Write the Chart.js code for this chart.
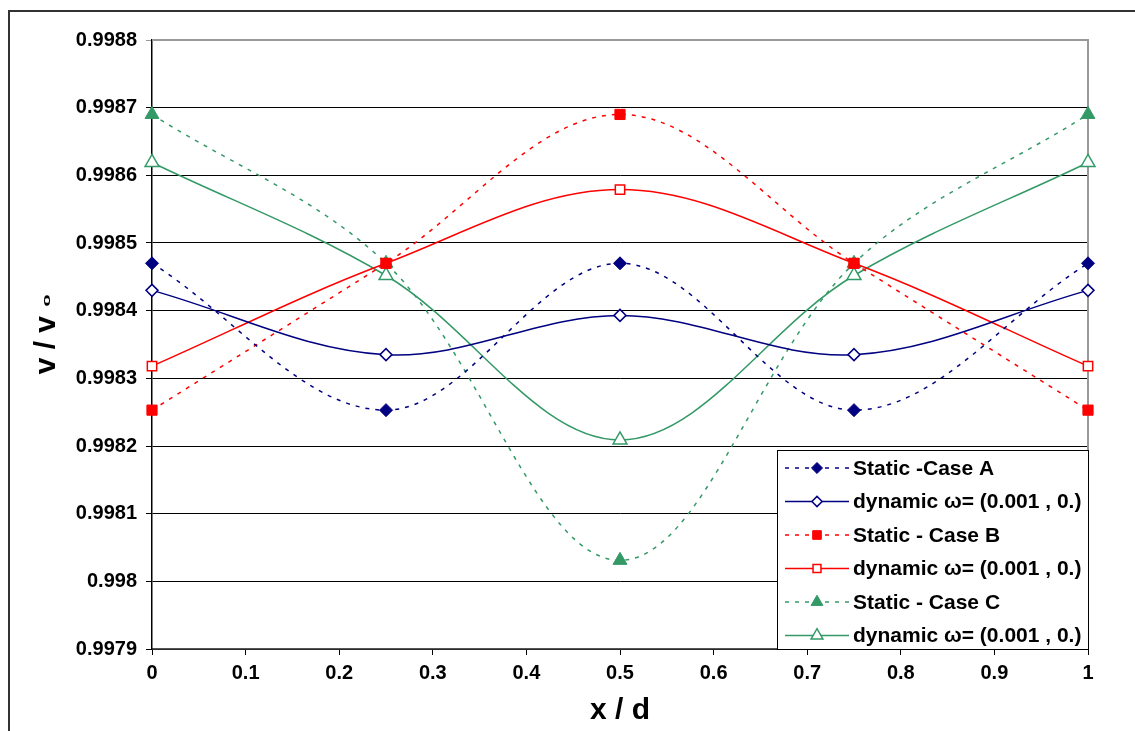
<!DOCTYPE html>
<html>
<head>
<meta charset="utf-8">
<script src="https://cdn.jsdelivr.net/npm/chart.js@4.4.0/dist/chart.umd.min.js"></script>
<style>
  html, body { margin: 0; padding: 0; background: #fff; }
  #wrap { position: relative; width: 1135px; height: 731px; }
</style>
</head>
<body>
<div id="wrap"><canvas id="chart" width="1135" height="731"></canvas></div>
<script>
// values
const xValues = [0, 0.25, 0.5, 0.75, 1];
const staticA = [0.99847, 0.998253, 0.99847, 0.998253, 0.99847];
const dynamicA = [0.99843, 0.998335, 0.998393, 0.998335, 0.99843];
const staticB = [0.998253, 0.99847, 0.99869, 0.99847, 0.998253];
const dynamicB = [0.998318, 0.99847, 0.998579, 0.99847, 0.998318];
const staticC = [0.99869, 0.99847, 0.998031, 0.99847, 0.99869];
const dynamicC = [0.998619, 0.998452, 0.998209, 0.998452, 0.998619];

const seriesNames = [
  'Static -Case A', 'dynamic \u03c9= (0.001 , 0.)',
  'Static - Case B', 'dynamic \u03c9= (0.001 , 0.)',
  'Static - Case C', 'dynamic \u03c9= (0.001 , 0.)'
];
const yTickLabels = ['0.9979', '0.998', '0.9981', '0.9982', '0.9983', '0.9984', '0.9985', '0.9986', '0.9987', '0.9988'];
const xTickLabels = ['0', '0.1', '0.2', '0.3', '0.4', '0.5', '0.6', '0.7', '0.8', '0.9', '1'];

const FONT = "Arial, 'Liberation Sans', sans-serif";
const NAVY = '#000080', RED = '#ff0000', GREEN = '#339966';

function pts(ys) {
  return ys.map((y, i) => ({ x: xValues[i], y: y }));
}

function series(label, ys, color, dashed, style, filled, radius) {
  return {
    label: label,
    data: pts(ys),
    borderColor: color,
    borderWidth: 1.5,
    borderDash: dashed ? [4, 6] : [],
    tension: 0.35,
    clip: false,
    pointStyle: style,
    pointRadius: radius,
    pointBackgroundColor: filled ? color : '#fff',
    pointBorderColor: color,
    pointBorderWidth: filled ? 1 : 1.5,
    fill: false
  };
}

// frame, plot border, y title and legend
const decor = {
  id: 'decor',
  beforeDraw(chart) {
    const c = chart.ctx;
    c.save();
    c.strokeStyle = '#333';
    c.lineWidth = 2;
    c.beginPath();
    c.moveTo(9, 731);
    c.lineTo(9, 11);
    c.lineTo(1135, 11);
    c.stroke();
    c.restore();
  },
  beforeDatasetsDraw(chart) {
    const a = chart.chartArea, c = chart.ctx;
    c.save();
    c.strokeStyle = '#999';
    c.lineWidth = 2;
    c.beginPath();
    c.moveTo(a.left, a.top);
    c.lineTo(a.right, a.top);
    c.lineTo(a.right, a.bottom);
    c.stroke();
    c.restore();
  },
  afterDraw(chart) {
    const c = chart.ctx;
    c.save();
    // y title
    c.translate(47, 335);
    c.rotate(-Math.PI / 2);
    c.fillStyle = '#000';
    c.font = 'bold 30px ' + FONT;
    c.textBaseline = 'middle';
    c.textAlign = 'left';
    const main = 'v / v ';
    const w1 = c.measureText(main).width;
    const x0 = -(w1 + 12) / 2;
    c.fillText(main, x0, 0);
    c.save();
    c.translate(x0 + w1 + 1, 1);
    c.scale(1.4, 0.55);
    c.font = 'bold 16px ' + FONT;
    c.fillText('0', 0, 0);
    c.restore();
    c.restore();

    // legend
    const lx = 777, ly = 450, lw = 311, lh = 199;
    c.save();
    c.fillStyle = '#fff';
    c.fillRect(lx, ly, lw, lh);
    c.strokeStyle = '#000';
    c.lineWidth = 1;
    c.strokeRect(lx + 0.5, ly + 0.5, lw, lh);
    chart.data.datasets.forEach((ds, i) => {
      const y = ly + 18 + i * 33.5;
      c.save();
      c.strokeStyle = ds.borderColor;
      c.lineWidth = ds.borderWidth;
      c.setLineDash(ds.borderDash);
      c.beginPath();
      c.moveTo(785, y);
      c.lineTo(849, y);
      c.stroke();
      c.restore();
      c.save();
      c.fillStyle = ds.pointBackgroundColor;
      c.strokeStyle = ds.pointBorderColor;
      c.lineWidth = ds.pointBorderWidth;
      Chart.helpers.drawPoint(c, { pointStyle: ds.pointStyle, radius: ds.pointRadius * 0.85, rotation: 0, borderWidth: ds.pointBorderWidth }, 817, y);
      c.restore();
      c.fillStyle = '#000';
      c.font = 'bold 21px ' + FONT;
      c.textAlign = 'left';
      c.textBaseline = 'middle';
      c.fillText(ds.label, 853, y + 1);
    });
    c.restore();
  }
};

new Chart(document.getElementById('chart'), {
  type: 'line',
  data: {
    datasets: [
      series(seriesNames[0], staticA, NAVY, true, 'rectRot', true, 6.5),
      series(seriesNames[1], dynamicA, NAVY, false, 'rectRot', false, 6),
      series(seriesNames[2], staticB, RED, true, 'rect', true, 7.2),
      series(seriesNames[3], dynamicB, RED, false, 'rect', false, 6.6),
      series(seriesNames[4], staticC, GREEN, true, 'triangle', true, 8),
      series(seriesNames[5], dynamicC, GREEN, false, 'triangle', false, 8)
    ]
  },
  options: {
    responsive: false,
    animation: false,
    events: [],
    layout: { padding: { top: 40, right: 47, left: 0, bottom: 0 } },
    plugins: {
      legend: { display: false },
      tooltip: { enabled: false }
    },
    scales: {
      x: {
        type: 'linear',
        min: 0,
        max: 1,
        afterBuildTicks: (s) => { s.ticks = xTickLabels.map(t => ({ value: parseFloat(t) })); },
        afterFit: (s) => { s.height = 82; },
        ticks: {
          callback: (v, i) => xTickLabels[i],
          color: '#000',
          font: { family: FONT, size: 20, weight: 'bold' },
          padding: 6,
          maxRotation: 0
        },
        grid: { drawOnChartArea: false, drawTicks: true, tickLength: 6, color: '#000' },
        border: { color: '#555', width: 1.5 },
        title: {
          display: true,
          text: 'x / d',
          color: '#000',
          font: { family: FONT, size: 30, weight: 'bold' },
          padding: { top: 0, bottom: 2 }
        }
      },
      y: {
        min: 0.9979,
        max: 0.9988,
        afterBuildTicks: (s) => { s.ticks = yTickLabels.map(t => ({ value: parseFloat(t) })); },
        afterFit: (s) => { s.width = 152; },
        ticks: {
          callback: (v, i) => yTickLabels[i],
          color: '#000',
          font: { family: FONT, size: 20, weight: 'bold' },
          padding: 9
        },
        grid: {
          color: (ctx) => (ctx.index === yTickLabels.length - 1 ? '#999' : '#000'),
          lineWidth: 1,
          tickLength: 6
        },
        border: { color: '#000', width: 1.5 }
      }
    }
  },
  plugins: [decor]
});
</script>
</body>
</html>
